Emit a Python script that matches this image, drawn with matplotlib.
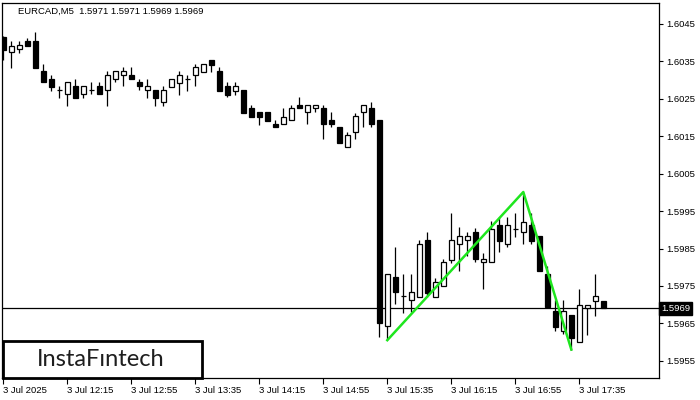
import numpy as np
import matplotlib.pyplot as plt
from matplotlib.patches import Rectangle

# EURCAD M5 bars, 3 Jul 2025 from 11:35
opens = [1.60416, 1.60374, 1.60383, 1.60405, 1.60405, 1.60324, 1.60303, 1.60273, 1.60262, 1.60283,
         1.60262, 1.60273, 1.60283, 1.60273, 1.60303, 1.60314, 1.60314, 1.60294, 1.60273, 1.60273,
         1.60242, 1.60282, 1.60293, 1.60302, 1.60314, 1.60322, 1.60354, 1.60325, 1.60284, 1.60272,
         1.60274, 1.60225, 1.60214, 1.60214, 1.60183, 1.60183, 1.60193, 1.60233, 1.60214, 1.60225,
         1.60225, 1.60193, 1.60174, 1.60122, 1.60162, 1.60214, 1.60225, 1.60193, 1.59643, 1.59773,
         1.59723, 1.59712, 1.59721, 1.59872, 1.59721, 1.59751, 1.59819, 1.59862, 1.59872, 1.59893,
         1.59813, 1.59813, 1.59913, 1.59862, 1.59901, 1.59893, 1.59913, 1.59883, 1.59781, 1.59683,
         1.59630, 1.59672, 1.59600, 1.59692, 1.59710, 1.59710]
highs = [1.60418, 1.60405, 1.60405, 1.60413, 1.60428, 1.60342, 1.60314, 1.60283, 1.60294, 1.60303,
         1.60283, 1.60294, 1.60294, 1.60324, 1.60324, 1.60335, 1.60335, 1.60303, 1.60303, 1.60273,
         1.60283, 1.60302, 1.60325, 1.60314, 1.60343, 1.60343, 1.60354, 1.60336, 1.60295, 1.60295,
         1.60274, 1.60233, 1.60214, 1.60214, 1.60193, 1.60225, 1.60233, 1.60256, 1.60233, 1.60233,
         1.60233, 1.60214, 1.60174, 1.60162, 1.60213, 1.60233, 1.60242, 1.60193, 1.59781, 1.59855,
         1.59781, 1.59781, 1.59872, 1.59895, 1.59770, 1.59821, 1.59944, 1.59908, 1.59895, 1.59904,
         1.59838, 1.59924, 1.59935, 1.59935, 1.59944, 1.60001, 1.59944, 1.59883, 1.59803, 1.59712,
         1.59712, 1.59672, 1.59741, 1.59700, 1.59781, 1.59710]
lows = [1.60354, 1.60333, 1.60372, 1.60392, 1.60333, 1.60294, 1.60272, 1.60253, 1.60232, 1.60253,
        1.60253, 1.60262, 1.60262, 1.60232, 1.60294, 1.60283, 1.60303, 1.60273, 1.60253, 1.60232,
        1.60232, 1.60282, 1.60260, 1.60272, 1.60284, 1.60322, 1.60322, 1.60272, 1.60254, 1.60260,
        1.60213, 1.60202, 1.60180, 1.60191, 1.60174, 1.60183, 1.60193, 1.60225, 1.60183, 1.60214,
        1.60142, 1.60174, 1.60133, 1.60122, 1.60142, 1.60174, 1.60174, 1.59614, 1.59605, 1.59703,
        1.59678, 1.59681, 1.59721, 1.59721, 1.59721, 1.59751, 1.59812, 1.59790, 1.59830, 1.59814,
        1.59741, 1.59813, 1.59841, 1.59853, 1.59881, 1.59862, 1.59862, 1.59790, 1.59694, 1.59630,
        1.59621, 1.59580, 1.59600, 1.59618, 1.59669, 1.59690]
closes = [1.60380, 1.60392, 1.60394, 1.60392, 1.60333, 1.60294, 1.60282, 1.60273, 1.60294, 1.60253,
          1.60283, 1.60273, 1.60262, 1.60314, 1.60324, 1.60324, 1.60303, 1.60283, 1.60283, 1.60253,
          1.60273, 1.60302, 1.60314, 1.60302, 1.60334, 1.60343, 1.60340, 1.60272, 1.60260, 1.60284,
          1.60213, 1.60202, 1.60202, 1.60191, 1.60174, 1.60202, 1.60225, 1.60225, 1.60233, 1.60233,
          1.60183, 1.60182, 1.60133, 1.60153, 1.60204, 1.60233, 1.60182, 1.59652, 1.59781, 1.59733,
          1.59723, 1.59733, 1.59862, 1.59731, 1.59761, 1.59814, 1.59872, 1.59883, 1.59883, 1.59821,
          1.59821, 1.59901, 1.59871, 1.59913, 1.59901, 1.59921, 1.59871, 1.59790, 1.59694, 1.59641,
          1.59683, 1.59612, 1.59700, 1.59700, 1.59723, 1.59690]

time_labels = ["3 Jul 2025", "3 Jul 12:15", "3 Jul 12:55", "3 Jul 13:35", "3 Jul 14:15",
               "3 Jul 14:55", "3 Jul 15:35", "3 Jul 16:15", "3 Jul 16:55", "3 Jul 17:35"]
price_ticks = [1.6045, 1.6035, 1.6025, 1.6015, 1.6005, 1.5995, 1.5985, 1.5975, 1.5965, 1.5955]

# double bottom pattern: bar index and price
pattern_bars = [48, 65, 71]
pattern_prices = [1.59605, 1.60001, 1.59580]

last_price = 1.5969
title = "EURCAD,M5  1.5971 1.5971 1.5969 1.5969"

plt.rcParams['font.family'] = ['Liberation Sans', 'DejaVu Sans']

fig = plt.figure(figsize=(7, 4), dpi=100)
ax = fig.add_axes([2 / 700, 22 / 400, 657 / 700, 375 / 400])

o = np.array(opens)
h = np.array(highs)
l = np.array(lows)
c = np.array(closes)
x = np.arange(len(o))
up = c > o
down = c < o
flat = c == o

ax.axhline(last_price, color='black', lw=0.9, zorder=1)
ax.vlines(x, l, h, color='black', lw=0.9, zorder=2)
w = 0.66
ax.bar(x[up], (c - o)[up], bottom=o[up], width=w, facecolor='white',
       edgecolor='black', lw=0.9, zorder=3)
ax.bar(x[down], (o - c)[down], bottom=c[down], width=w, facecolor='black',
       edgecolor='black', lw=0.9, zorder=3)
ax.hlines(o[flat], x[flat] - w / 2, x[flat] + w / 2, color='black', lw=0.9, zorder=3)

ax.plot(pattern_bars, pattern_prices, color='#1ee61e', lw=1.8, zorder=4)

ax.set_xlim(-0.16, 81.96)
ax.set_ylim(1.59504, 1.60506)

ax.yaxis.tick_right()
ax.set_yticks(price_ticks)
ax.set_yticklabels(["%.4f" % p for p in price_ticks])
ax.set_xticks(np.arange(0, 80, 8))
ax.set_xticklabels(time_labels, ha='left')
ax.tick_params(axis='y', direction='out', length=3, width=0.8, pad=2, labelsize=6.8)
ax.tick_params(axis='x', direction='out', length=4, width=0.8, pad=1.5, labelsize=6.8)
for s in ax.spines.values():
    s.set_linewidth(0.9)

ax.text(1.003, last_price, "1.5969", transform=ax.get_yaxis_transform(), color='white',
        fontsize=6.8, va='center', ha='left', clip_on=False,
        bbox=dict(boxstyle='square,pad=0.25', fc='black', ec='black'))

fig.text(18 / 700, 1 - 11 / 400, title, fontsize=6.8, va='center', ha='left')

fig.patches.append(Rectangle((3 / 700, 22 / 400), 199 / 700, 37 / 400, transform=fig.transFigure,
                             facecolor='white', edgecolor='black', lw=2.0, zorder=5))
fig.text(101 / 700, 1 - 360 / 400, "InstaF\u0131ntech", fontsize=17, family=['Lato', 'DejaVu Sans'],
         color='#1e1e1e', ha='center', va='center', zorder=6)

fig.savefig("out.png", dpi=100)
